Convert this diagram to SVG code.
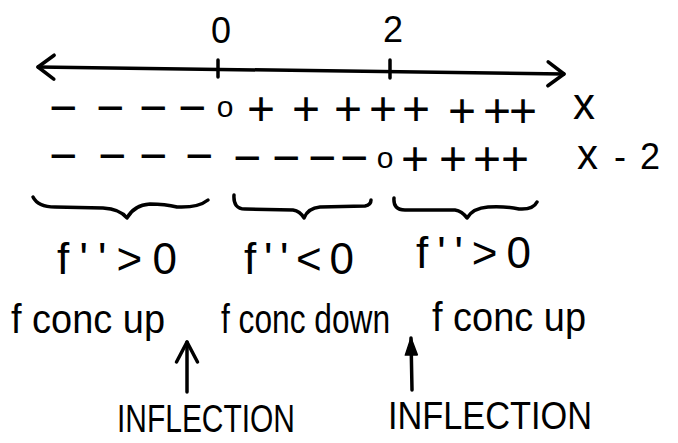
<svg xmlns="http://www.w3.org/2000/svg" width="678" height="443" viewBox="0 0 678 443">
<style>
  text { font-family: "Liberation Sans", Arial, sans-serif; fill: #000; }
  .ink { fill: none; stroke: #000; stroke-width: 3.5; stroke-linecap: round; stroke-linejoin: round; }
  .sign { font-size: 48px; text-anchor: middle; }
  .zero { font-size: 30px; }
  .num { font-size: 36px; text-anchor: middle; }
  .cond { font-size: 44px; }
  .conc { font-size: 40px; }
  .infl { font-size: 38px; }
</style>
<defs>
  <marker id="lineHead" viewBox="0 0 20 28" refX="18" refY="14" markerWidth="20" markerHeight="28" markerUnits="userSpaceOnUse" orient="auto-start-reverse" overflow="visible">
    <path d="M2,2 L18,14 L2,26" fill="none" stroke="#000" stroke-width="3.5" stroke-linecap="round" stroke-linejoin="round"/>
  </marker>
  <marker id="openHead" viewBox="0 0 24 26" refX="22" refY="13" markerWidth="24" markerHeight="26" markerUnits="userSpaceOnUse" orient="auto" overflow="visible">
    <path d="M2,2.5 L22,13 L2,23.5" fill="none" stroke="#000" stroke-width="3.5" stroke-linecap="round" stroke-linejoin="round"/>
  </marker>
  <marker id="solidHead" viewBox="0 0 18 14" refX="17" refY="7" markerWidth="18" markerHeight="14" markerUnits="userSpaceOnUse" orient="auto" overflow="visible">
    <path d="M0,1 L17,7 L0,13 Z" fill="#000" stroke="#000" stroke-width="1.5" stroke-linejoin="round"/>
  </marker>
</defs>

<g id="number-line">
  <line class="ink" x1="38" y1="67" x2="564" y2="74" marker-start="url(#lineHead)" marker-end="url(#lineHead)"/>
  <line class="ink" x1="218" y1="60" x2="218" y2="77"/>
  <line class="ink" x1="390" y1="60" x2="390" y2="78"/>
  <text class="num" x="221" y="43">0</text>
  <text class="num" x="393" y="42">2</text>
</g>

<g id="row-x">
  <text class="sign" y="124"><tspan x="63">−</tspan><tspan x="110">−</tspan><tspan x="153">−</tspan><tspan x="192">−</tspan><tspan class="zero" x="225" y="117">o</tspan><tspan x="261" y="125">+</tspan><tspan x="306">+</tspan><tspan x="348">+</tspan><tspan x="383">+</tspan><tspan x="416">+</tspan><tspan x="462" y="127">+</tspan><tspan x="497">+</tspan><tspan x="523">+</tspan></text>
  <text x="573" y="119" font-size="44">x</text>
</g>

<g id="row-x-2">
  <text class="sign" y="172"><tspan x="63">−</tspan><tspan x="112">−</tspan><tspan x="153">−</tspan><tspan x="199">−</tspan><tspan x="247" y="174">−</tspan><tspan x="286">−</tspan><tspan x="322">−</tspan><tspan x="354">−</tspan><tspan class="zero" x="385" y="168">o</tspan><tspan x="415" y="175">+</tspan><tspan x="453">+</tspan><tspan x="487">+</tspan><tspan x="515">+</tspan></text>
  <text y="169" font-size="36"><tspan x="577" font-size="42">x</tspan><tspan x="614">-</tspan><tspan x="640">2</tspan></text>
</g>

<g id="braces">
  <path class="ink" d="M33,197 Q38,207 55,207 L103,208 Q120,209 127,218 Q134,205 150,204 Q165,204 177,207 Q198,208 208,200"/>
  <path class="ink" d="M234,195 Q233,209 245,209 L293,210 Q300,211 304,218 Q308,208 320,207 L365,206 Q371,205 371,200"/>
  <path class="ink" d="M394,198 Q393,210 405,210 L455,210 Q462,211 467,218 Q473,208 488,207 Q505,206 519,209 Q533,210 537,202"/>
</g>

<g id="interval-1">
  <text class="cond" x="57" y="274" textLength="120" lengthAdjust="spacing">f''&gt;0</text>
  <text class="conc" x="11" y="333" textLength="154" lengthAdjust="spacingAndGlyphs">f conc up</text>
</g>
<g id="interval-2">
  <text class="cond" x="244" y="274" textLength="110" lengthAdjust="spacing">f''&lt;0</text>
  <text class="conc" x="221" y="333" textLength="169" lengthAdjust="spacingAndGlyphs">f conc down</text>
</g>
<g id="interval-3">
  <text class="cond" x="416" y="268" textLength="115" lengthAdjust="spacing">f''&gt;0</text>
  <text class="conc" x="432" y="331" textLength="154" lengthAdjust="spacingAndGlyphs">f conc up</text>
</g>

<g id="inflection-1">
  <text class="infl" x="117" y="432" textLength="178" lengthAdjust="spacingAndGlyphs">INFLECTION</text>
</g>
<g id="inflection-2">
  <text class="infl" x="388" y="429" textLength="204" lengthAdjust="spacingAndGlyphs">INFLECTION</text>
</g>

<g id="connectors">
  <line class="ink" x1="187" y1="392" x2="187" y2="342" marker-end="url(#openHead)"/>
  <line class="ink" x1="412" y1="390" x2="411" y2="338" marker-end="url(#solidHead)"/>
</g>
</svg>
